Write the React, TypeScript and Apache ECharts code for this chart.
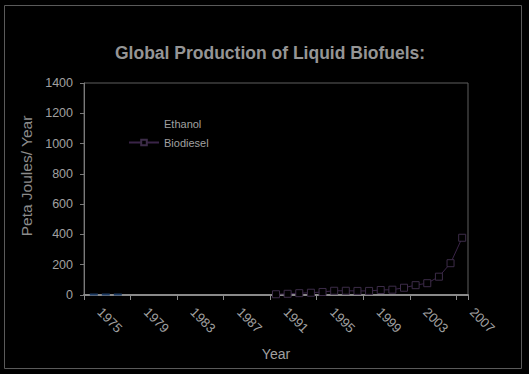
import React, { useEffect, useRef } from "react";
import * as echarts from "echarts";

const years: string[] = [];
for (let y = 1975; y <= 2007; y++) years.push(String(y));

// Ethanol drawn nearly black in the reference (only faint trace near zero in 1975-1978)
const ethanolValues: (number | null)[] = [
  4, 4, 4, 4, null, null, null, null, null, null, null, null, null, null, null, null,
  null, null, null, null, null, null, null, null, null, null, null, null, null, null, null, null, null,
];

const biodieselValues: (number | null)[] = [
  null, null, null, null, null, null, null, null, null, null, null, null, null, null, null, null,
  5, 8, 12, 15, 20, 28, 28, 27, 27, 33, 35, 48, 65, 78, 121, 210, 378,
];

const yTicks = { min: 0, max: 1400, interval: 200 };

export default function App() {
  const ref = useRef<HTMLDivElement>(null);
  useEffect(() => {
    if (!ref.current) return;
    const chart = echarts.init(ref.current, null, { renderer: "svg" });
    const font = "'Liberation Sans', Arial, sans-serif";
    chart.setOption({
      animation: false,
      backgroundColor: "#000000",
      textStyle: { fontFamily: font },
      title: {
        text: "Global Production of Liquid Biofuels:",
        left: 110,
        top: 39,
        textStyle: { color: "#959595", fontSize: 17.5, fontWeight: "bold", fontFamily: font },
      },
      graphic: [
        {
          type: "rect",
          shape: { x: 4.5, y: 5.5, width: 517, height: 363 },
          style: { fill: "none", stroke: "#5a5a5a", lineWidth: 1 },
          silent: true,
        },
      ],
      legend: {
        left: 123,
        top: 113,
        orient: "vertical",
        itemWidth: 30,
        itemHeight: 7,
        itemGap: 8,
        textStyle: { color: "#a0a0a0", fontSize: 11, fontFamily: font },
        data: [
          { name: "Ethanol", itemStyle: { opacity: 0 }, lineStyle: { opacity: 0 } },
          { name: "Biodiesel" },
        ],
      },
      grid: {
        left: 84,
        right: 61,
        top: 83,
        bottom: 79,
        show: true,
        borderColor: "#5e5e5e",
        borderWidth: 1,
        backgroundColor: "transparent",
      },
      xAxis: {
        type: "category",
        data: years,
        boundaryGap: true,
        name: "Year",
        nameLocation: "middle",
        nameGap: 52,
        nameTextStyle: { color: "#a0a0a0", fontSize: 14, fontFamily: font },
        axisLine: { lineStyle: { color: "#8a8a8a", width: 2 } },
        axisTick: { show: true, interval: 3, length: 5, lineStyle: { color: "#8a8a8a" } },
        axisLabel: {
          interval: 3,
          rotate: -45,
          color: "#a0a0a0",
          fontSize: 13,
          margin: 5,
          padding: [0, 0, 0, 14],
          fontFamily: font,
        },
        splitLine: { show: false },
      },
      yAxis: {
        type: "value",
        min: yTicks.min,
        max: yTicks.max,
        interval: yTicks.interval,
        name: "Peta Joules/ Year",
        nameLocation: "middle",
        nameGap: 47,
        nameTextStyle: { color: "#8c8c8c", fontSize: 15.5, fontFamily: font, padding: [0, 0, 0, 26] },
        axisLine: { show: true, lineStyle: { color: "#7a7a7a" } },
        axisTick: { show: true, length: 4, lineStyle: { color: "#7a7a7a" } },
        axisLabel: {
          color: "#a0a0a0",
          fontSize: 12.5,
          margin: 11,
          fontFamily: font,
          formatter: (v: number) => String(v),
        },
        splitLine: { show: false },
      },
      series: [
        {
          name: "Ethanol",
          type: "line",
          data: ethanolValues,
          symbol: "none",
          lineStyle: { color: "#1e3d66", width: 2, type: "dashed" },
          itemStyle: { color: "#1e3d66" },
        },
        {
          name: "Biodiesel",
          type: "line",
          data: biodieselValues,
          symbol: "rect",
          symbolSize: 7,
          lineStyle: { color: "#3a2448", width: 1 },
          itemStyle: { color: "#000000", borderColor: "#3c2c48", borderWidth: 1 },
        },
      ],
    });
    return () => chart.dispose();
  }, []);
  return <div ref={ref} style={{ width: 529, height: 374, position: "absolute", left: 0, top: 0 }} />;
}
